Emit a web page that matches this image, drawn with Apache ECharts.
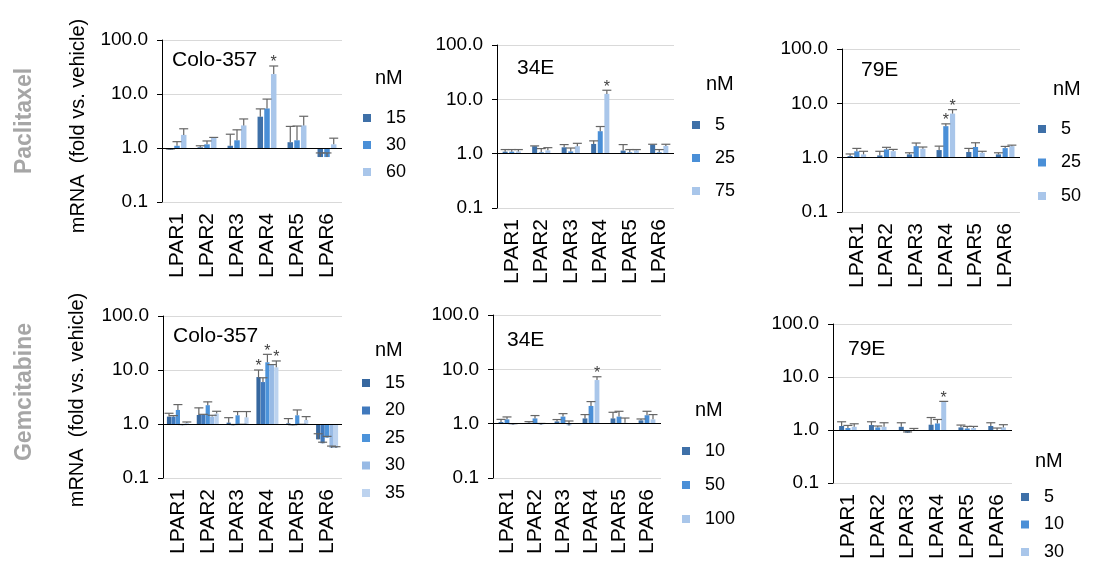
<!DOCTYPE html>
<html><head><meta charset="utf-8">
<script src="https://cdn.jsdelivr.net/npm/echarts@6/dist/echarts.min.js"></script>
<style>html,body{margin:0;padding:0;background:#fff}#c{width:1093px;height:562px}</style>
</head><body><div id="c"></div>
<script>
// ---------- DATA ----------
const categories = ['LPAR1','LPAR2','LPAR3','LPAR4','LPAR5','LPAR6'];
const tickLabels = ['0.1','1.0','10.0','100.0'];
const rowLabels = ['Paclitaxel','Gemcitabine'];
const yAxisTitle = 'mRNA  (fold vs. vehicle)';
const legendTitle = 'nM';

// Paclitaxel / Colo-357
const pacColoDoses = ['15','30','60'];
const pacColoMean = [
  [0.93, 1.03, 1.10, 3.8, 1.28, 0.68],
  [1.10, 1.17, 1.39, 5.4, 1.39, 0.68],
  [1.75, 1.54, 2.62, 23.4, 2.62, 1.17]
];
const pacColoErr = [
  [0.03, 0.07, 0.70, 1.5, 1.23, 0.13],
  [0.21, 0.18, 0.78, 2.65, 1.16, 0.13],
  [0.52, 0.03, 0.83, 9.6, 1.25, 0.35]
];
const pacColoStars = [[3,2]];

// Paclitaxel / 34E
const pac34Doses = ['5','25','75'];
const pac34Mean = [
  [1.09, 1.37, 1.31, 1.51, 1.14, 1.47],
  [1.09, 1.06, 1.10, 2.59, 1.06, 1.06],
  [1.10, 1.15, 1.37, 12.6, 1.15, 1.39]
];
const pac34Err = [
  [0.10, 0.02, 0.16, 0.21, 0.33, 0.02],
  [0.10, 0.18, 0.17, 0.57, 0.13, 0.13],
  [0.09, 0.14, 0.18, 2.1, 0.04, 0.10]
];
const pac34Stars = [[3,2]];

// Paclitaxel / 79E
const pac79Doses = ['5','25','50'];
const pac79Mean = [
  [1.07, 1.10, 1.15, 1.38, 1.27, 1.15],
  [1.31, 1.42, 1.63, 3.8, 1.57, 1.50],
  [1.15, 1.32, 1.46, 6.47, 1.23, 1.63]
];
const pac79Err = [
  [0.10, 0.21, 0.08, 0.25, 0.21, 0.08],
  [0.17, 0.13, 0.23, 0.39, 0.31, 0.11],
  [0.16, 0.10, 0.11, 1.18, 0.08, 0.07]
];
const pac79Stars = [[3,1],[3,2]];

// Gemcitabine / Colo-357
const gemColoDoses = ['15','20','25','30','35'];
const gemColoMean = [
  [1.37, 1.47, 1.06, 7.4, 1.03, 0.52],
  [1.37, 1.47, 0.95, 5.98, 0.95, 0.44],
  [1.82, 2.23, 1.45, 13.9, 1.45, 0.56],
  [0.95, 1.37, 0.97, 12.4, 0.97, 0.36],
  [1.04, 1.56, 1.33, 11.2, 1.19, 0.36]
];
const gemColoErr = [
  [0.21, 0.52, 0.25, 2.6, 0.23, 0.14],
  [0.06, 0.04, 0.03, 1.2, 0.02, 0.02],
  [0.47, 0.34, 0.25, 5.6, 0.37, 0.03],
  [0.03, 0.08, 0.02, 0.2, 0.02, 0.03],
  [0.05, 0.16, 0.37, 3.5, 0.18, 0.02]
];
const gemColoStars = [[3,0],[3,2],[3,4]];

// Gemcitabine / 34E
const gem34Doses = ['10','50','100'];
const gem34Mean = [
  [1.07, 1.04, 1.10, 1.25, 1.25, 1.15],
  [1.20, 1.25, 1.35, 2.12, 1.35, 1.43],
  [0.96, 0.96, 0.93, 6.35, 1.04, 1.20]
];
const gem34Err = [
  [0.13, 0.05, 0.09, 0.22, 0.37, 0.07],
  [0.13, 0.16, 0.18, 0.43, 0.34, 0.26],
  [0.04, 0.05, 0.19, 0.95, 0.23, 0.27]
];
const gem34Stars = [[3,2]];

// Gemcitabine / 79E
const gem79Doses = ['5','10','30'];
const gem79Mean = [
  [1.19, 1.24, 1.15, 1.26, 1.12, 1.19],
  [1.09, 1.12, 0.89, 1.33, 1.07, 1.00],
  [1.15, 1.15, 0.97, 3.42, 1.09, 1.12]
];
const gem79Err = [
  [0.24, 0.19, 0.22, 0.46, 0.12, 0.18],
  [0.13, 0.07, 0.03, 0.25, 0.10, 0.09],
  [0.16, 0.22, 0.10, 0.05, 0.08, 0.14]
];
const gem79Stars = [[3,2]];

// ---------- LAYOUT / STYLE ----------
const FONT = 'Liberation Sans, Arial, sans-serif';
const C3 = ['#3E70A8', '#4A8FD7', '#A9C6EA'];
const C5 = ['#36679F', '#4079BD', '#4C93DA', '#98BAE5', '#BDD3EF'];

const panels = [
  {id:'p1', title:'Colo-357', doses:pacColoDoses, mean:pacColoMean, err:pacColoErr, stars:pacColoStars, colors:C3,
   grid:{left:162, top:40, width:180, height:162}, bw:5.5, gap:22, titlePos:[172,60],
   nM:[375,78], legend:{left:363, top:109, itemGap:9}},
  {id:'p2', title:'34E', doses:pac34Doses, mean:pac34Mean, err:pac34Err, stars:pac34Stars, colors:C3,
   grid:{left:497, top:45, width:177, height:163}, bw:5, gap:32, titlePos:[517,68],
   nM:[706,84], legend:{left:692, top:116, itemGap:15}},
  {id:'p3', title:'79E', doses:pac79Doses, mean:pac79Mean, err:pac79Err, stars:pac79Stars, colors:C3,
   grid:{left:842, top:49, width:178, height:163}, bw:5.2, gap:29, titlePos:[861,70.5],
   nM:[1053,89], legend:{left:1038, top:120, itemGap:15.5}},
  {id:'p4', title:'Colo-357', doses:gemColoDoses, mean:gemColoMean, err:gemColoErr, stars:gemColoStars, colors:C5,
   grid:{left:163, top:316, width:179, height:162}, bw:4.2, gap:6, titlePos:[173,336],
   nM:[375,350], legend:{left:362, top:374, itemGap:9.5}},
  {id:'p5', title:'34E', doses:gem34Doses, mean:gem34Mean, err:gem34Err, stars:gem34Stars, colors:C3,
   grid:{left:493, top:315, width:168, height:163}, bw:4.8, gap:25, titlePos:[507,340],
   nM:[695,410], legend:{left:682, top:442, itemGap:16}},
  {id:'p6', title:'79E', doses:gem79Doses, mean:gem79Mean, err:gem79Err, stars:gem79Stars, colors:C3,
   grid:{left:833, top:324, width:179, height:162}, bw:5, gap:26, titlePos:[848,349],
   nM:[1035,461], legend:{left:1021, top:488, itemGap:9.5}}
];

// ---------- OPTION BUILD ----------
const grid = [], xAxis = [], yAxis = [], series = [], legend = [], graphic = [];
panels.forEach((p, i) => {
  grid.push(Object.assign({containLabel:false}, p.grid));
  xAxis.push({type:'category', gridIndex:i, data:categories,
    axisLine:{show:false}, axisTick:{show:false}, splitLine:{show:false},
    axisLabel:{rotate:90, fontSize:21, color:'#000', margin:11, fontFamily:FONT}});
  yAxis.push({type:'value', gridIndex:i, min:-1, max:2, interval:1,
    axisLine:{show:true, lineStyle:{color:'#000', width:1}},
    axisTick:{show:true, length:5, lineStyle:{color:'#000'}},
    axisLabel:{formatter:(v)=>tickLabels[Math.round(v)+1], fontSize:19, color:'#000', margin:14, fontFamily:FONT},
    splitLine:{show:true, lineStyle:{color:'#d9d9d9', width:1}}});
  const n = p.doses.length;
  p.doses.forEach((d, j) => {
    const s = {type:'bar', name:p.id+'|'+d, xAxisIndex:i, yAxisIndex:i,
      data:p.mean[j].map(v=>Math.log10(v)), barWidth:p.bw, barGap:p.gap+'%',
      itemStyle:{color:p.colors[j]}, silent:true, animation:false, z:2};
    if (j === 0) {
      s.markLine = {silent:true, symbol:'none', animation:false, label:{show:false},
        lineStyle:{color:'#000', width:1.2, type:'solid'}, data:[{yAxis:0}], z:5};
    }
    series.push(s);
  });
  // error bars + significance
  const errData = [];
  p.doses.forEach((d, j) => {
    p.mean[j].forEach((m, c) => {
      const star = p.stars.some(st => st[0]===c && st[1]===j) ? 1 : 0;
      errData.push([c, Math.log10(m), Math.log10(m + p.err[j][c]), j, star]);
    });
  });
  series.push({type:'custom', name:'err'+i, xAxisIndex:i, yAxisIndex:i, data:errData,
    encode:{x:0, y:1}, silent:true, animation:false, z:4,
    renderItem:(params, api) => {
      const c = api.value(0), j = api.value(3);
      const center = api.coord([c, 0])[0];
      const g = p.gap/100;
      const total = n*p.bw + (n-1)*p.bw*g;
      const x = center - total/2 + j*p.bw*(1+g) + p.bw/2;
      const y0 = api.coord([c, api.value(1)])[1];
      const y1 = api.coord([c, api.value(2)])[1];
      const st = {stroke:'#666666', lineWidth:1.2};
      const ch = [
        {type:'line', shape:{x1:x, y1:y0, x2:x, y2:y1}, style:st},
        {type:'line', shape:{x1:x-4.5, y1:y1, x2:x+4.5, y2:y1}, style:st}
      ];
      if (api.value(4)) {
        ch.push({type:'text', x:x, y:y1-3, style:{text:'*', fontSize:16, fontFamily:FONT, fill:'#404040', align:'center', verticalAlign:'middle'}});
      }
      return {type:'group', children:ch};
    }});
  legend.push({orient:'vertical', left:p.legend.left, top:p.legend.top, itemGap:p.legend.itemGap,
    itemWidth:8, itemHeight:8, padding:0, icon:'rect', selectedMode:false,
    data:p.doses.map(d=>p.id+'|'+d), formatter:(nm)=>nm.split('|')[1],
    textStyle:{fontSize:18, color:'#000', fontFamily:FONT, padding:[0,0,0,10]}});
  graphic.push({type:'text', x:p.titlePos[0], y:p.titlePos[1], silent:true,
    style:{text:p.title, fontSize:21, fontFamily:FONT, fill:'#000', align:'left', verticalAlign:'middle'}});
  graphic.push({type:'text', x:p.nM[0], y:p.nM[1], silent:true,
    style:{text:legendTitle, fontSize:20, fontFamily:FONT, fill:'#000', align:'left', verticalAlign:'middle'}});
});
// row labels & y-axis titles
[[25,121],[25,392]].forEach((pos, r) => {
  graphic.push({type:'text', x:pos[0], y:pos[1], rotation:Math.PI/2, silent:true,
    style:{text:rowLabels[r], fontSize:23, fontWeight:'bold', fontFamily:FONT, fill:'#a6a6a6', align:'center', verticalAlign:'middle'}});
});
[[78,126],[77,400]].forEach((pos) => {
  graphic.push({type:'text', x:pos[0], y:pos[1], rotation:Math.PI/2, silent:true,
    style:{text:yAxisTitle, fontSize:20, fontFamily:FONT, fill:'#000', align:'center', verticalAlign:'middle'}});
});

const chart = echarts.init(document.getElementById('c'), null, {renderer:'canvas'});
chart.setOption({backgroundColor:'#fff', animation:false, grid, xAxis, yAxis, series, legend, graphic});
</script></body></html>
